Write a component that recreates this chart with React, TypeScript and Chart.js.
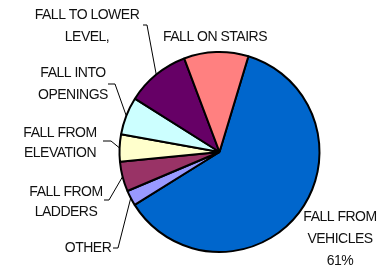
import React, { useEffect, useRef } from "react";
import { Chart, registerables } from "chart.js";

Chart.register(...registerables);

const categories = [
  "FALL FROM VEHICLES",
  "OTHER",
  "FALL FROM LADDERS",
  "FALL FROM ELEVATION",
  "FALL INTO OPENINGS",
  "FALL TO LOWER LEVEL,",
  "FALL ON STAIRS",
];
const values = [61.4, 2.5, 4.8, 4.4, 6.1, 10.3, 10.4];
const colors = ["#0066CC", "#9999FF", "#993366", "#FFFFCC", "#CCFFFF", "#660066", "#FF8080"];
const labelLines = [
  ["FALL FROM", "VEHICLES", "61%"],
  ["OTHER"],
  ["FALL FROM", "LADDERS"],
  ["FALL FROM", "ELEVATION"],
  ["FALL INTO", "OPENINGS"],
  ["FALL TO LOWER", "LEVEL,"],
  ["FALL ON STAIRS"],
];

// label layout: text center x, first line y, line gap, leader start/knee (null = no leader)
const labelLayout = [
  { x: 340, y: 217, gap: 22, leader: null },
  { x: 88, y: 248, gap: 20, leader: [[113, 248], [118, 248]] },
  { x: 66, y: 192, gap: 20, leader: [[104, 200], [109, 200]] },
  { x: 60, y: 133, gap: 20, leader: [[103, 141], [111, 141]] },
  { x: 73, y: 73, gap: 22, leader: [[108, 84], [115, 84]] },
  { x: 87, y: 15, gap: 22, leader: [[143, 25], [147, 25]] },
  { x: 215, y: 37, gap: 20, leader: null },
];

const labelPlugin = {
  id: "pieLabels",
  afterDraw(chart: any) {
    const ctx = chart.ctx;
    const meta = chart.getDatasetMeta(0);
    ctx.save();
    ctx.fillStyle = "#111";
    ctx.font = '14px "Liberation Sans", Arial, sans-serif';
    try {
      (ctx as any).letterSpacing = "-0.5px";
    } catch (e) {}
    ctx.textAlign = "center";
    ctx.textBaseline = "middle";
    labelLines.forEach((lines, i) => {
      const lay = labelLayout[i];
      lines.forEach((t, j) => ctx.fillText(t, lay.x, lay.y + j * lay.gap));
      if (lay.leader) {
        const arc = meta.data[i];
        const mid = (arc.startAngle + arc.endAngle) / 2;
        const ex = arc.x + Math.cos(mid) * arc.outerRadius;
        const ey = arc.y + Math.sin(mid) * arc.outerRadius;
        ctx.strokeStyle = "#000";
        ctx.lineWidth = 1;
        ctx.beginPath();
        ctx.moveTo(lay.leader[0][0], lay.leader[0][1]);
        ctx.lineTo(lay.leader[1][0], lay.leader[1][1]);
        ctx.lineTo(ex, ey);
        ctx.stroke();
      }
    });
    ctx.restore();
  },
};

export default function App() {
  const ref = useRef<HTMLCanvasElement>(null);
  useEffect(() => {
    const chart = new Chart(ref.current!, {
      type: "pie",
      data: {
        labels: categories,
        datasets: [
          {
            data: values,
            backgroundColor: colors,
            borderColor: "#000",
            borderWidth: 2,
          },
        ],
      },
      options: {
        animation: false,
        responsive: false,
        rotation: 16.8,
        layout: { padding: { left: 118, right: 66, top: 51, bottom: 15 } },
        plugins: { legend: { display: false }, tooltip: { enabled: false } },
      },
      plugins: [labelPlugin],
    });
    return () => chart.destroy();
  }, []);
  return (
    <div style={{ position: "fixed", left: 0, top: 0, width: 387, height: 268, background: "#fff" }}>
      <canvas ref={ref} width={387} height={268} />
    </div>
  );
}
